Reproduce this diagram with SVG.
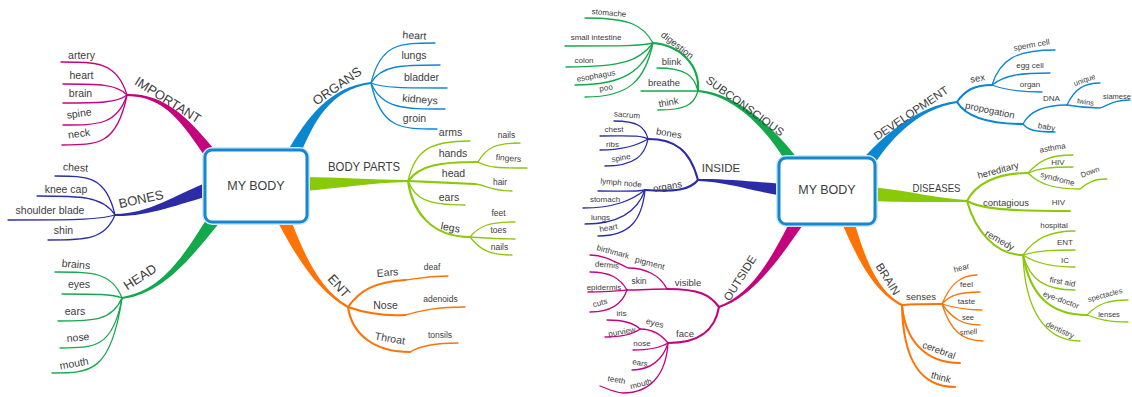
<svg xmlns="http://www.w3.org/2000/svg" width="1132" height="397" viewBox="0 0 1132 397">
<style>
text{font-family:"Liberation Sans",Arial,sans-serif;fill:#3c3c3c;text-anchor:middle;dominant-baseline:central}
.c{font-size:12.5px}
.big{font-size:13px}
.mid{font-size:11.5px}
.lf{font-size:10.5px}
.sl{font-size:8.5px}
.rm{font-size:9.5px}
.rs{font-size:8px}
.rx{font-size:7.5px}
.ln{fill:none;stroke-linecap:round}
.m{stroke:#c4047f}.b{stroke:#2b2ca6}.g{stroke:#13a84b}.bl{stroke:#0b86d1}.lg{stroke:#8ac80a}.o{stroke:#ff7204}
.w1{stroke-width:1.3}.w2{stroke-width:2.1}
.fm{fill:#c4047f}.fb{fill:#2b2ca6}.fg{fill:#13a84b}.fbl{fill:#0b86d1}.flg{fill:#8ac80a}.fo{fill:#ff7204}
.halo{fill:none;stroke:#cfe6f7;stroke-width:6}
.box{fill:#fff;stroke:#1587d2;stroke-width:3}
</style>
<rect width="1132" height="397" fill="#fff"/>
<g id="connectors">
<!-- left main branches -->
<path class="fm" d="M216.8,152.4 C188.2,117.6 165,93.5 127,94 L127,96 C165,96.5 181.8,122.4 207.2,159.6 Z"/>
<path class="fb" d="M209.8,181.3 C173.6,195.7 150,213.5 115,214 L115,216 C150,216.5 176.4,204.3 214.2,194.7 Z"/>
<path class="fg" d="M209.7,214.2 C186.8,249.6 164.8,290.5 121.9,297 L122.1,299 C165.2,293.5 193.2,254.4 220.3,221.8 Z"/>
<path class="fbl" d="M298.9,157.9 C313.6,121.8 330.2,89.5 371.1,84 L370.9,82 C329.8,86.5 306.4,118.2 287.1,152.1 Z"/>
<path class="flg" d="M303,177 C340,177.5 370,179.5 408,180 L408,182 C370,182.5 340,188.5 303,191 Z"/>
<path class="fo" d="M278.1,222.7 C296.4,256.7 317.3,291.3 347.5,307.9 L348.5,306.1 C318.7,288.7 303.6,253.3 289.9,217.3 Z"/>
<!-- right main branches -->
<path class="fg" d="M800,161.7 C778.3,132.8 740.1,93.5 698.1,90 L697.9,92 C739.9,96.5 771.7,137.2 790,168.3 Z"/>
<path class="fb" d="M783,184 C750,181.5 725,178.5 698,179 L698,181 C725,181.5 750,190.5 783,196 Z"/>
<path class="fm" d="M791.5,218.6 C776.6,247.9 754.5,293.6 718.7,306 L719.3,308 C755.5,296.4 783.4,252.1 802.5,225.4 Z"/>
<path class="fbl" d="M871.2,168.9 C888.2,142.4 915.2,109.5 957.1,103 L956.9,101 C914.8,106.5 881.8,137.6 860.8,161.1 Z"/>
<path class="flg" d="M872,187 C910,191 940,199 967,200 L967,202 C940,201.5 910,203 872,201 Z"/>
<path class="fo" d="M842.4,224 C856.2,256.4 874.4,293.4 901.6,305.9 L902.4,304.1 C875.6,290.6 863.8,253.6 853.6,220 Z"/>

<!-- IMPORTANT leaves -->
<path class="ln m w1" d="M127,95 C117,62 97,62 61,62"/>
<path class="ln m w1" d="M127,95 C117,84 98,84 63,84"/>
<path class="ln m w1" d="M127,95 C117,103 98,103 63,103"/>
<path class="ln m w1" d="M127,95 C117,125 98,125 63,125"/>
<path class="ln m w1" d="M127,95 C117,145 98,145 62,145"/>
<!-- BONES leaves -->
<path class="ln b w1" d="M115,215 C106,176 88,176 55,176"/>
<path class="ln b w1" d="M115,215 C103,196 80,196 37,196"/>
<path class="ln b w1" d="M115,215 C99,220 67,220 8,220"/>
<path class="ln b w1" d="M115,215 C105,240 85,240 48,240"/>
<!-- HEAD leaves -->
<path class="ln g w1" d="M122,298 C112,272 92,272 55,272"/>
<path class="ln g w1" d="M122,298 C113,294 95,294 62,294"/>
<path class="ln g w1" d="M122,298 C112,321 93,321 58,321"/>
<path class="ln g w1" d="M122,298 C113,348 94,348 60,348"/>
<path class="ln g w1" d="M122,298 C111,373 90,373 52,373"/>
<!-- ORGANS leaves -->
<path class="ln bl w1" d="M371,83 C381,43 400,43 435,43"/>
<path class="ln bl w1" d="M371,83 C381,65 402,65 440,65"/>
<path class="ln bl w1" d="M371,83 C382,88 405,88 447,88"/>
<path class="ln bl w1" d="M371,83 C382,109 404,109 445,109"/>
<path class="ln bl w1" d="M371,83 C381,129 401,129 437,129"/>
<!-- BODY PARTS -->
<path class="ln lg w1" d="M408,181 C415,150 430,141 470,141"/>
<path class="ln lg w2" d="M408,181 C420,165 440,162 478,162"/>
<path class="ln lg w1" d="M478,162 C486,148 495,143 520,143"/>
<path class="ln lg w1" d="M478,162 C488,168 500,168 527,168"/>
<path class="ln lg w2" d="M408,181 C430,182 455,183 475,184"/>
<path class="ln lg w1" d="M475,184 C485,185 492,191 512,191"/>
<path class="ln lg w1" d="M408,181 C415,198 425,205 465,205"/>
<path class="ln lg w2" d="M408,181 C412,210 430,237 470,237"/>
<path class="ln lg w1" d="M470,237 C480,225 490,222 515,222"/>
<path class="ln lg w1" d="M470,237 C485,238 495,239 515,239"/>
<path class="ln lg w1" d="M470,237 C480,250 490,255 512,255"/>
<!-- ENT -->
<path class="ln o w2" d="M348,307 C360,290 375,282 405,280"/>
<path class="ln o w1" d="M405,280 C415,279 425,276 448,276"/>
<path class="ln o w2" d="M348,307 C365,313 385,316 405,315"/>
<path class="ln o w1" d="M405,315 C418,312 430,307 465,307"/>
<path class="ln o w2" d="M348,307 C352,335 375,352 410,352"/>
<path class="ln o w1" d="M410,352 C420,346 435,343 458,343"/>

<!-- SUBCONSCIOUS -->
<path class="ln g w2" d="M698,91 C700,65 680,45 653,43"/>
<path class="ln g w1" d="M653,43 C643,25 630,18 585,18"/>
<path class="ln g w1" d="M653,43 C640,46 625,46 565,46"/>
<path class="ln g w1" d="M653,43 C640,60 625,67 566,67"/>
<path class="ln g w1" d="M653,43 C643,70 625,85 575,85"/>
<path class="ln g w1" d="M653,43 C645,80 630,97 585,97"/>
<path class="ln g w1" d="M698,91 C694,75 685,68 657,68"/>
<path class="ln g w1" d="M698,91 C690,91 680,91 641,91"/>
<path class="ln g w1" d="M698,91 C694,105 685,110 658,110"/>
<!-- INSIDE -->
<path class="ln b w2" d="M698,180 C690,150 675,139 648,139"/>
<path class="ln b w1" d="M648,139 C645,127 638,121 614,121"/>
<path class="ln b w1" d="M648,139 C640,135 630,136 600,136"/>
<path class="ln b w1" d="M648,139 C638,145 625,150 600,150"/>
<path class="ln b w1" d="M648,139 C645,155 635,166 605,166"/>
<path class="ln b w2" d="M698,180 C690,190 675,192 645,190"/>
<path class="ln b w1" d="M645,190 C635,192 620,191 598,191"/>
<path class="ln b w1" d="M645,190 C632,200 615,208 583,208"/>
<path class="ln b w1" d="M645,190 C638,210 620,224 585,224"/>
<path class="ln b w1" d="M645,190 C642,220 630,236 598,236"/>
<!-- OUTSIDE -->
<path class="ln m w2" d="M719,307 C710,295 700,289 667,289"/>
<path class="ln m w1" d="M667,289 C660,275 645,268 628,268 C615,262 605,255 590,255"/>
<path class="ln m w1" d="M667,289 C655,289 640,290 627,290"/>
<path class="ln m w1" d="M627,290 C620,278 610,272 590,272"/>
<path class="ln m w1" d="M627,290 C615,291 605,292 588,292"/>
<path class="ln m w1" d="M627,290 C622,305 610,312 590,312"/>
<path class="ln m w2" d="M719,307 C715,330 700,343 668,343"/>
<path class="ln m w1" d="M668,343 C660,333 650,329 640,329"/>
<path class="ln m w1" d="M640,329 C633,322 620,320 607,320"/>
<path class="ln m w1" d="M640,329 C632,335 620,337 605,337"/>
<path class="ln m w1" d="M668,343 C660,348 650,350 633,350"/>
<path class="ln m w1" d="M668,343 C663,360 650,370 632,370"/>
<path class="ln m w1" d="M668,343 C666,375 650,393 623,393 C613,392 606,388 600,386"/>
<!-- DEVELOPMENT -->
<path class="ln bl w2" d="M957,102 C965,90 975,85 992,85"/>
<path class="ln bl w1" d="M992,85 C1000,60 1015,50 1055,50"/>
<path class="ln bl w1" d="M992,85 C1005,75 1020,73 1050,73"/>
<path class="ln bl w1" d="M992,85 C1005,90 1020,92 1042,92"/>
<path class="ln bl w2" d="M957,102 C965,115 985,124 1023,124"/>
<path class="ln bl w1" d="M1023,124 C1030,110 1045,105 1067,105"/>
<path class="ln bl w1" d="M1067,105 C1075,88 1085,83 1100,83"/>
<path class="ln bl w1" d="M1067,105 C1078,107 1088,108 1100,108 C1110,104 1115,100 1130,100"/>
<path class="ln bl w1" d="M1023,124 C1028,130 1035,132 1055,132"/>
<!-- DISEASES -->
<path class="ln lg w2" d="M967,201 C975,185 995,173 1028,173"/>
<path class="ln lg w1" d="M1028,173 C1040,160 1050,155 1073,155"/>
<path class="ln lg w1" d="M1028,173 C1040,168 1050,167 1073,167"/>
<path class="ln lg w1" d="M1028,173 C1040,185 1055,189 1080,189 C1088,182 1095,179 1107,179"/>
<path class="ln lg w2" d="M967,201 C980,208 1000,211 1070,211"/>
<path class="ln lg w2" d="M967,201 C975,230 995,255 1023,255"/>
<path class="ln lg w1" d="M1023,255 C1035,238 1050,231 1075,231"/>
<path class="ln lg w1" d="M1023,255 C1040,250 1055,250 1075,250"/>
<path class="ln lg w1" d="M1023,255 C1035,263 1050,267 1075,267"/>
<path class="ln lg w1" d="M1023,255 C1030,280 1045,290 1075,290"/>
<path class="ln lg w2" d="M1023,255 C1030,295 1050,315 1087,315"/>
<path class="ln lg w1" d="M1087,315 C1098,303 1110,300 1128,300"/>
<path class="ln lg w1" d="M1087,315 C1100,320 1110,322 1128,322"/>
<path class="ln lg w1" d="M1023,255 C1025,310 1045,341 1080,341"/>
<!-- BRAIN -->
<path class="ln o w2" d="M902,305 C915,304 930,304 942,304"/>
<path class="ln o w1" d="M942,304 C950,285 960,275 977,275"/>
<path class="ln o w1" d="M942,304 C950,295 960,292 980,292"/>
<path class="ln o w1" d="M942,304 C955,308 965,310 982,310"/>
<path class="ln o w1" d="M942,304 C952,318 962,325 980,325"/>
<path class="ln o w1" d="M942,304 C950,330 962,341 983,341"/>
<path class="ln o w2" d="M902,305 C905,340 925,363 960,363"/>
<path class="ln o w2" d="M902,305 C903,360 920,387 955,387"/>
</g>

<!-- central nodes -->
<g id="n-mybody-left">
<rect class="halo" x="205" y="150" width="102" height="72" rx="7"/>
<rect class="box" x="205" y="150" width="102" height="72" rx="7"/>
<text class="c" x="256" y="186">MY BODY</text>
</g>
<g id="n-mybody-right">
<rect class="halo" x="779" y="158" width="96" height="66" rx="7"/>
<rect class="box" x="779" y="158" width="96" height="66" rx="7"/>
<text class="c" x="827" y="190">MY BODY</text>
</g>

<!-- left map labels -->
<g id="n-important"><text class="big" transform="translate(168 100) rotate(32)">IMPORTANT</text></g>
<g id="n-artery"><text class="lf" x="81.5" y="55">artery</text></g>
<g id="n-heart1"><text class="lf" x="81.5" y="75">heart</text></g>
<g id="n-brain1"><text class="lf" x="80.5" y="93">brain</text></g>
<g id="n-spine1"><text class="lf" transform="translate(79 113) rotate(-8)">spine</text></g>
<g id="n-neck"><text class="lf" transform="translate(79 133) rotate(-8)">neck</text></g>

<g id="n-bones1"><text class="big" transform="translate(141 199) rotate(-12)">BONES</text></g>
<g id="n-chest1"><text class="lf" transform="translate(75.5 167) rotate(3)">chest</text></g>
<g id="n-kneecap"><text class="lf" x="66" y="189">knee cap</text></g>
<g id="n-shoulder"><text class="lf" x="50" y="210">shoulder blade</text></g>
<g id="n-shin"><text class="lf" x="63.5" y="230">shin</text></g>

<g id="n-head1"><text class="big" transform="translate(140 277) rotate(-33)">HEAD</text></g>
<g id="n-brains"><text class="lf" transform="translate(76 264) rotate(5)">brains</text></g>
<g id="n-eyes1"><text class="lf" x="79" y="284">eyes</text></g>
<g id="n-ears1"><text class="lf" x="75" y="311">ears</text></g>
<g id="n-nose1"><text class="lf" transform="translate(78 337) rotate(-5)">nose</text></g>
<g id="n-mouth1"><text class="lf" transform="translate(74 363) rotate(-10)">mouth</text></g>

<g id="n-organs1"><text class="big" transform="translate(337 86) rotate(-35)">ORGANS</text></g>
<g id="n-heart2"><text class="lf" transform="translate(414.5 35) rotate(3)">heart</text></g>
<g id="n-lungs1"><text class="lf" x="414" y="55">lungs</text></g>
<g id="n-bladder"><text class="lf" x="421.5" y="77">bladder</text></g>
<g id="n-kidneys"><text class="lf" transform="translate(420 99) rotate(5)">kidneys</text></g>
<g id="n-groin"><text class="lf" x="414.5" y="118">groin</text></g>

<g id="n-bodyparts"><text class="big" x="364" y="166" textLength="72" lengthAdjust="spacingAndGlyphs">BODY PARTS</text></g>
<g id="n-arms"><text class="lf" x="450.5" y="132">arms</text></g>
<g id="n-hands"><text class="lf" x="453" y="153">hands</text></g>
<g id="n-nails1"><text class="sl" x="506.5" y="135">nails</text></g>
<g id="n-fingers"><text class="sl" transform="translate(508.5 158) rotate(5)">fingers</text></g>
<g id="n-headbp"><text class="lf" x="453.5" y="173">head</text></g>
<g id="n-hair"><text class="sl" x="500" y="182">hair</text></g>
<g id="n-earsbp"><text class="lf" x="449" y="197">ears</text></g>
<g id="n-legs"><text class="lf" transform="translate(450.5 227) rotate(10)">legs</text></g>
<g id="n-feet"><text class="sl" x="498.5" y="213">feet</text></g>
<g id="n-toes"><text class="sl" x="498.5" y="230">toes</text></g>
<g id="n-nails2"><text class="sl" x="499.5" y="247">nails</text></g>

<g id="n-ent1"><text class="big" transform="translate(339 286) rotate(48)">ENT</text></g>
<g id="n-Ears"><text class="lf" transform="translate(387.5 272) rotate(-5)">Ears</text></g>
<g id="n-deaf"><text class="sl" x="432" y="267">deaf</text></g>
<g id="n-Nose"><text class="lf" x="385.5" y="305">Nose</text></g>
<g id="n-adenoids"><text class="sl" x="440.5" y="299">adenoids</text></g>
<g id="n-Throat"><text class="lf" transform="translate(390 338) rotate(10)">Throat</text></g>
<g id="n-tonsils"><text class="sl" x="440" y="335">tonsils</text></g>

<!-- right map labels -->
<g id="n-subconscious"><text class="mid" transform="translate(745 106) rotate(36)">SUBCONSCIOUS</text></g>
<g id="n-digestion"><text class="rm" transform="translate(677.5 45) rotate(38)">digestion</text></g>
<g id="n-stomache"><text class="rs" transform="translate(609 13) rotate(5)">stomache</text></g>
<g id="n-smallint"><text class="rs" x="596" y="37">small intestine</text></g>
<g id="n-colon"><text class="rs" x="584" y="60">colon</text></g>
<g id="n-esophagus"><text class="rs" transform="translate(596 76) rotate(-10)">esophagus</text></g>
<g id="n-poo"><text class="rs" transform="translate(606 88) rotate(-10)">poo</text></g>
<g id="n-blink"><text class="rm" x="671.5" y="61">blink</text></g>
<g id="n-breathe"><text class="rm" x="664" y="82">breathe</text></g>
<g id="n-think1"><text class="rm" transform="translate(668.5 102) rotate(-10)">think</text></g>

<g id="n-inside"><text class="mid" x="721" y="168">INSIDE</text></g>
<g id="n-bones2"><text class="rm" transform="translate(669 133) rotate(10)">bones</text></g>
<g id="n-sacrum"><text class="rs" transform="translate(627 115) rotate(5)">sacrum</text></g>
<g id="n-chest2"><text class="rs" x="614" y="129">chest</text></g>
<g id="n-ribs"><text class="rs" x="612.5" y="144">ribs</text></g>
<g id="n-spine2"><text class="rs" transform="translate(621 158) rotate(-10)">spine</text></g>
<g id="n-organs2"><text class="rm" transform="translate(667.5 186) rotate(-10)">organs</text></g>
<g id="n-lymph"><text class="rs" transform="translate(621 183) rotate(5)">lymph node</text></g>
<g id="n-stomach"><text class="rs" x="605" y="199">stomach</text></g>
<g id="n-lungs2"><text class="rs" x="600.5" y="217">lungs</text></g>
<g id="n-heart3"><text class="rs" transform="translate(608.5 228) rotate(-10)">heart</text></g>

<g id="n-outside"><text class="mid" transform="translate(740 278) rotate(-58)">OUTSIDE</text></g>
<g id="n-visible"><text class="rm" x="688" y="282">visible</text></g>
<g id="n-pigment"><text class="sl" transform="translate(650 263) rotate(15)">pigment</text></g>
<g id="n-birthmark"><text class="rs" transform="translate(613 252) rotate(15)">birthmark</text></g>
<g id="n-skin"><text class="sl" x="639" y="281">skin</text></g>
<g id="n-dermis"><text class="rs" transform="translate(607 265) rotate(5)">dermis</text></g>
<g id="n-epidermis"><text class="rs" x="604" y="287">epidermis</text></g>
<g id="n-cuts"><text class="rs" transform="translate(600 303) rotate(-15)">cuts</text></g>
<g id="n-face"><text class="rm" x="685" y="333">face</text></g>
<g id="n-eyes2"><text class="sl" transform="translate(655 323) rotate(15)">eyes</text></g>
<g id="n-iris"><text class="rs" x="621.5" y="313">iris</text></g>
<g id="n-purview"><text class="rs" transform="translate(622 332) rotate(-10)">purview</text></g>
<g id="n-nose2"><text class="rs" x="642" y="343">nose</text></g>
<g id="n-ears2"><text class="rs" transform="translate(640 363) rotate(10)">ears</text></g>
<g id="n-mouth2"><text class="rs" transform="translate(641 384) rotate(-15)">mouth</text></g>
<g id="n-teeth"><text class="rs" transform="translate(616.5 380) rotate(10)">teeth</text></g>

<g id="n-development"><text class="mid" transform="translate(911 113) rotate(-34)">DEVELOPMENT</text></g>
<g id="n-sex"><text class="rm" transform="translate(977.5 78) rotate(-10)">sex</text></g>
<g id="n-sperm"><text class="rs" transform="translate(1031.5 45) rotate(-10)">sperm cell</text></g>
<g id="n-egg"><text class="rs" x="1030" y="65">egg cell</text></g>
<g id="n-organ"><text class="rs" x="1030" y="84">organ</text></g>
<g id="n-propogation"><text class="rm" transform="translate(990 110) rotate(12)">propogation</text></g>
<g id="n-dna"><text class="rs" x="1051.5" y="98">DNA</text></g>
<g id="n-unique"><text class="rx" transform="translate(1084.5 80) rotate(-20)">unique</text></g>
<g id="n-twins"><text class="rx" transform="translate(1085.5 102) rotate(10)">twins</text></g>
<g id="n-siamese"><text class="rx" x="1117" y="96">siamese</text></g>
<g id="n-baby"><text class="rs" transform="translate(1046.5 127) rotate(10)">baby</text></g>

<g id="n-diseases"><text class="mid" x="936.5" y="188" textLength="48" lengthAdjust="spacingAndGlyphs">DISEASES</text></g>
<g id="n-hereditary"><text class="rm" transform="translate(998 170) rotate(-15)">hereditary</text></g>
<g id="n-asthma"><text class="rs" transform="translate(1052.5 148) rotate(-10)">asthma</text></g>
<g id="n-hiv1"><text class="rs" x="1058" y="162">HIV</text></g>
<g id="n-syndrome"><text class="rs" transform="translate(1057.5 179) rotate(15)">syndrome</text></g>
<g id="n-down"><text class="rx" transform="translate(1090 172) rotate(-20)">Down</text></g>
<g id="n-contagious"><text class="rm" x="1006" y="202">contagious</text></g>
<g id="n-hiv2"><text class="rs" x="1058.5" y="202">HIV</text></g>
<g id="n-remedy"><text class="rm" transform="translate(1000 240) rotate(30)">remedy</text></g>
<g id="n-hospital"><text class="rs" x="1054" y="225">hospital</text></g>
<g id="n-ent2"><text class="rs" x="1065" y="242">ENT</text></g>
<g id="n-ic"><text class="rs" x="1065" y="260">IC</text></g>
<g id="n-firstaid"><text class="rs" transform="translate(1062.5 282) rotate(10)">first aid</text></g>
<g id="n-eyedoctor"><text class="rs" transform="translate(1061 300) rotate(20)">eye-doctor</text></g>
<g id="n-spectacles"><text class="rx" transform="translate(1105 295) rotate(-15)">spectacles</text></g>
<g id="n-lenses"><text class="rx" x="1109" y="314">lenses</text></g>
<g id="n-dentistry"><text class="rs" transform="translate(1060 330) rotate(25)">dentistry</text></g>

<g id="n-brain2"><text class="mid" transform="translate(888 279) rotate(58)">BRAIN</text></g>
<g id="n-senses"><text class="rm" x="921" y="296">senses</text></g>
<g id="n-hear"><text class="rs" transform="translate(961.5 268) rotate(-15)">hear</text></g>
<g id="n-feel"><text class="rs" x="966.5" y="284">feel</text></g>
<g id="n-taste"><text class="rs" x="966.5" y="301">taste</text></g>
<g id="n-see"><text class="rx" x="968" y="317">see</text></g>
<g id="n-smell"><text class="rx" transform="translate(968.5 332) rotate(-5)">smell</text></g>
<g id="n-cerebral"><text class="rm" transform="translate(939 350) rotate(20)">cerebral</text></g>
<g id="n-think2"><text class="rm" transform="translate(941 377) rotate(15)">think</text></g>
</svg>
